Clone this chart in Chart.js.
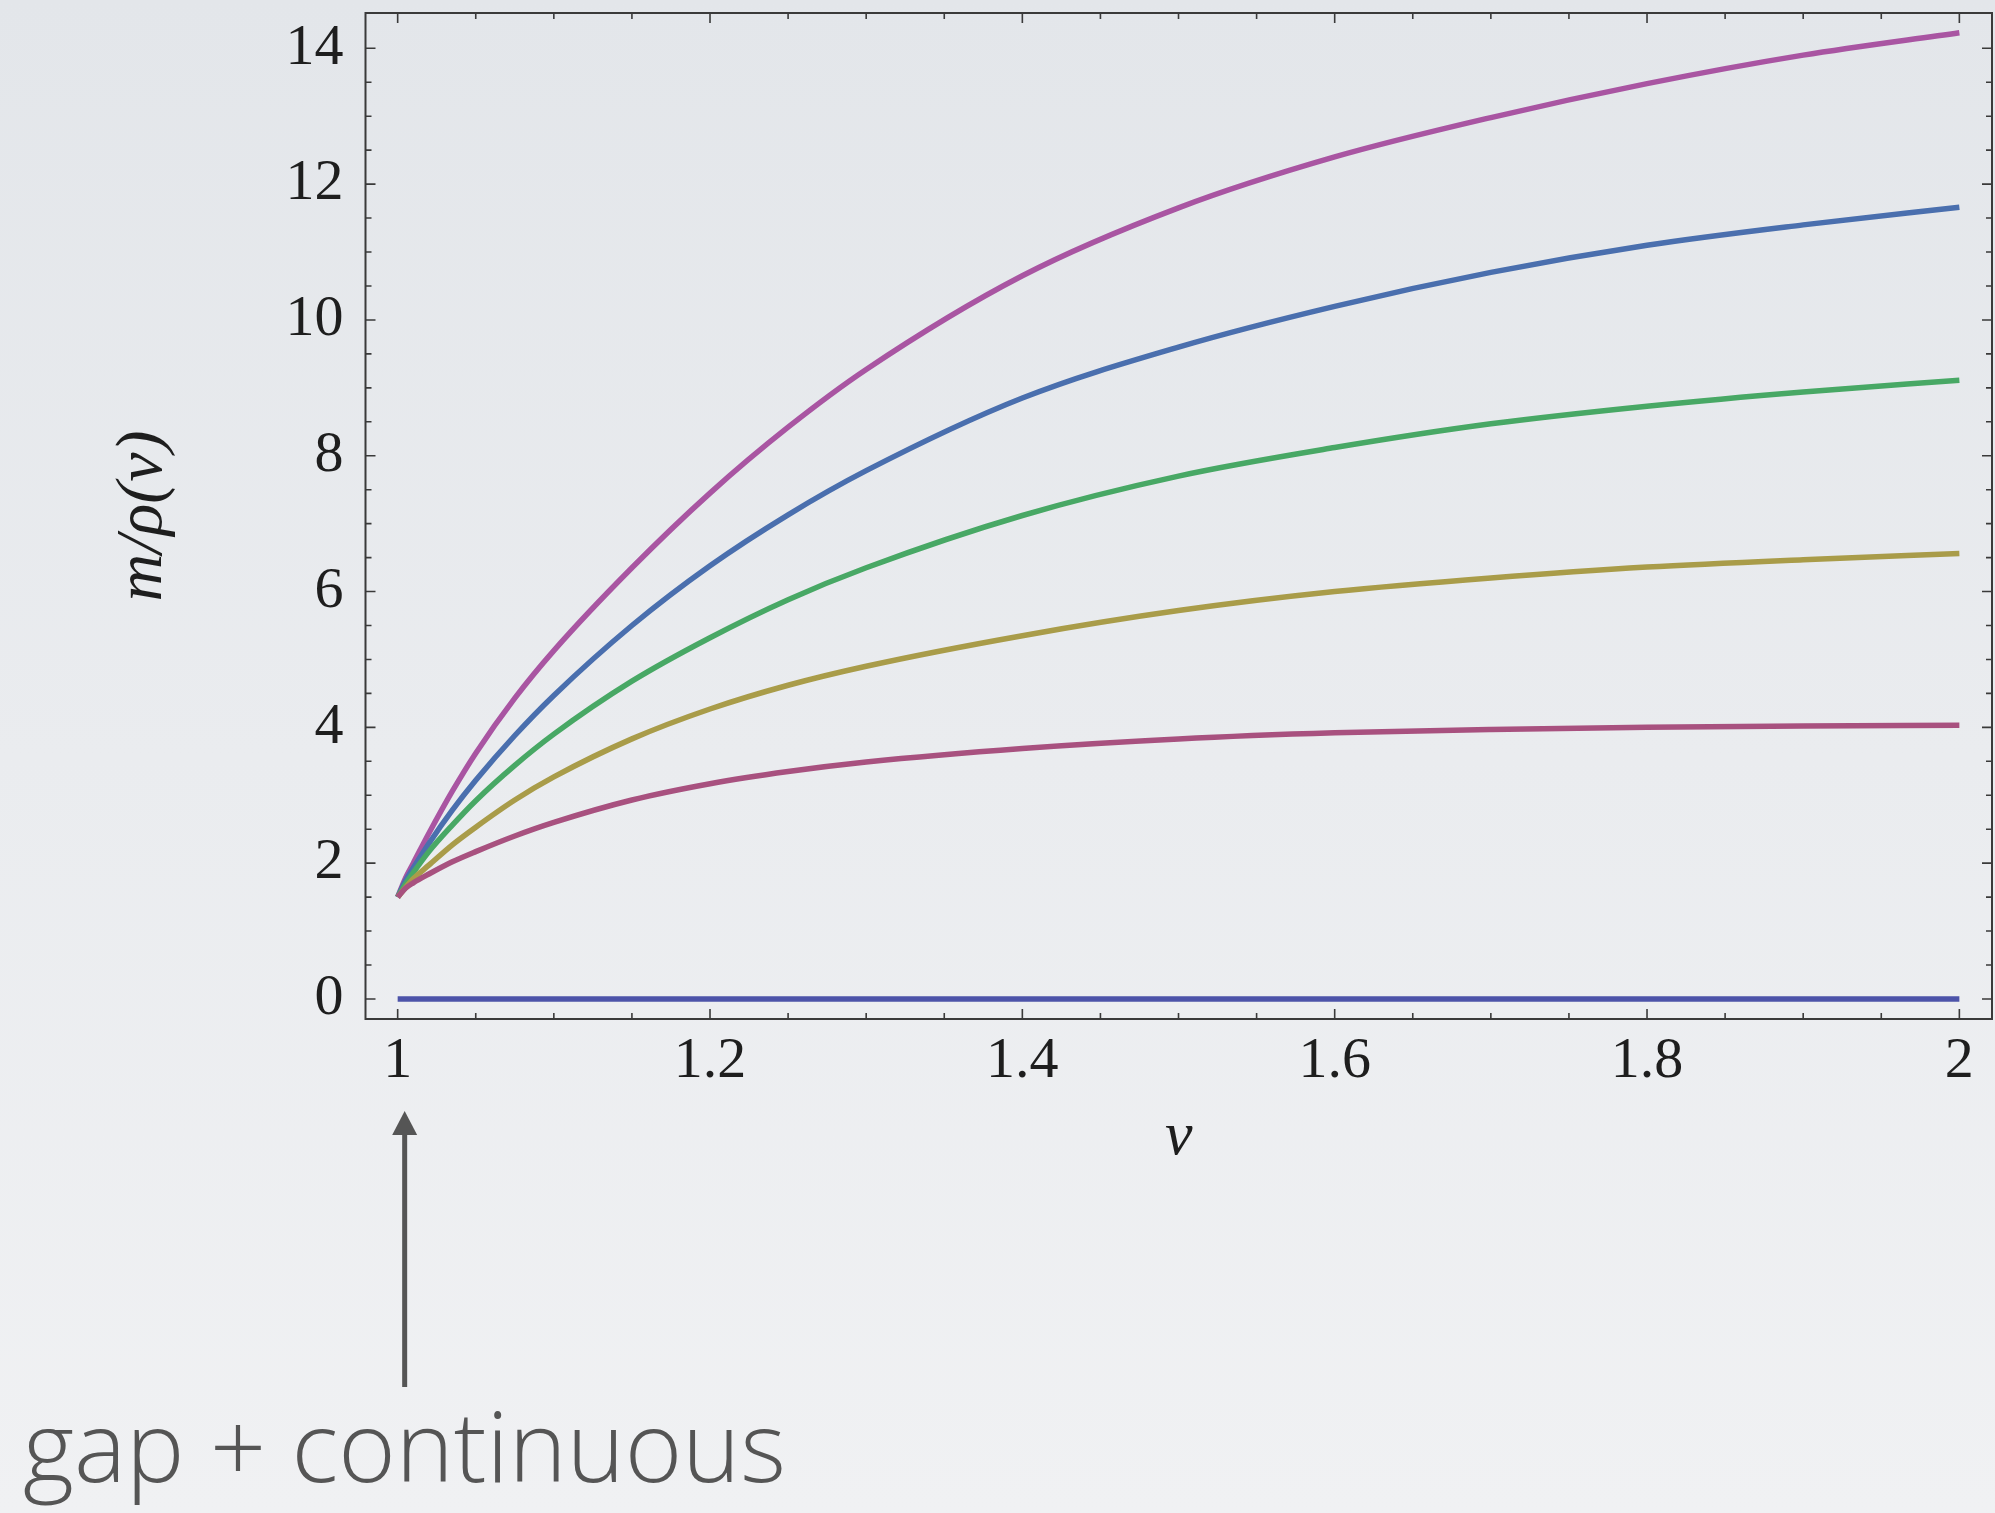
<!DOCTYPE html>
<html>
<head>
<meta charset="utf-8">
<script src="https://cdn.jsdelivr.net/npm/chart.js@4.4.1/dist/chart.umd.min.js"></script>
<style>
  html, body { margin: 0; padding: 0; }
  body {
    width: 1995px; height: 1513px; overflow: hidden;
    background: linear-gradient(to bottom, #e3e6ea 0%, #eaecef 50%, #f0f1f3 100%);
  }
  #wrap { position: absolute; left: 0; top: 0; width: 1995px; height: 1513px; }
</style>
</head>
<body>
<div id="wrap"><canvas id="chart" width="1995" height="1513"></canvas></div>
<script>
var nu = [1, 1.005, 1.01, 1.02, 1.035, 1.05, 1.075, 1.1, 1.15, 1.2, 1.25, 1.3, 1.4, 1.5, 1.6, 1.7, 1.8, 1.9, 2];

// m / rho(nu), one array per curve (top to bottom)
var magentaCurve = [1.5, 1.78, 2.0, 2.44, 3.06, 3.62, 4.43, 5.13, 6.35, 7.45, 8.42, 9.27, 10.65, 11.65, 12.4, 12.98, 13.48, 13.9, 14.23];
var blueCurve    = [1.5, 1.74, 1.93, 2.29, 2.78, 3.22, 3.88, 4.47, 5.5, 6.38, 7.13, 7.78, 8.85, 9.6, 10.2, 10.7, 11.1, 11.4, 11.66];
var greenCurve   = [1.5, 1.69, 1.86, 2.17, 2.56, 2.92, 3.44, 3.9, 4.68, 5.32, 5.88, 6.35, 7.12, 7.7, 8.12, 8.47, 8.73, 8.94, 9.11];
var oliveCurve   = [1.5, 1.64, 1.77, 1.97, 2.27, 2.53, 2.93, 3.27, 3.83, 4.27, 4.62, 4.9, 5.35, 5.72, 6.0, 6.2, 6.36, 6.47, 6.56];
var crimsonCurve = [1.5, 1.63, 1.71, 1.84, 2.02, 2.17, 2.4, 2.6, 2.93, 3.17, 3.35, 3.49, 3.69, 3.83, 3.92, 3.97, 4.0, 4.02, 4.03];

// the flat line at zero
var zeroNu = [1, 2];
var zeroLine = [0, 0];

var xTicks = [1, 1.2, 1.4, 1.6, 1.8, 2];
var yTicks = [0, 2, 4, 6, 8, 10, 12, 14];

var caption = 'gap + continuous';

function pts(xs, ys) {
    var out = [];
    for (var i = 0; i < xs.length; i++) {
        out.push({x: xs[i], y: ys[i]});
    }
    return out;
}

var serif = "'Liberation Serif', 'DejaVu Serif', serif";

// fixed axis box sizes, and no extra padding for the edge labels
function fixBox(w, h) {
    return function(s) {
        if (w) s.width = w;
        if (h) s.height = h;
        s.paddingTop = 0; s.paddingBottom = 0;
        s.paddingLeft = 0; s.paddingRight = 0;
    };
}

// frame with inward ticks on all four sides, plus the arrow and caption
var frameTicks = {
    id: 'frameTicks',
    afterDatasetsDraw: function(chart) {
        var ctx = chart.ctx;
        var a = chart.chartArea;
        var xs = chart.scales.x, ys = chart.scales.y;
        ctx.save();
        ctx.strokeStyle = '#3a3a3a';
        ctx.lineWidth = 2;
        ctx.strokeRect(a.left, a.top, a.right - a.left, a.bottom - a.top);

        ctx.lineWidth = 1.6;
        ctx.beginPath();
        // x ticks every 0.05, major every 0.2
        for (var i = 0; i <= 20; i++) {
            var px = xs.getPixelForValue(1 + i * 0.05);
            var len = (i % 4 == 0) ? 10 : 6;
            ctx.moveTo(px, a.bottom); ctx.lineTo(px, a.bottom - len);
            ctx.moveTo(px, a.top); ctx.lineTo(px, a.top + len);
        }
        // y ticks every 0.5, major every 2
        for (var j = 0; j <= 28; j++) {
            var py = ys.getPixelForValue(j * 0.5);
            var ylen = (j % 4 == 0) ? 10 : 6;
            ctx.moveTo(a.left, py); ctx.lineTo(a.left + ylen, py);
            ctx.moveTo(a.right, py); ctx.lineTo(a.right - ylen, py);
        }
        ctx.stroke();

        // arrow pointing at nu = 1
        var ax = xs.getPixelForValue(1) + 7;
        ctx.strokeStyle = '#555555';
        ctx.fillStyle = '#555555';
        ctx.lineWidth = 5;
        ctx.beginPath();
        ctx.moveTo(ax, 1387);
        ctx.lineTo(ax, 1132);
        ctx.stroke();
        ctx.beginPath();
        ctx.moveTo(ax, 1111);
        ctx.lineTo(ax - 12.5, 1135);
        ctx.lineTo(ax + 12.5, 1135);
        ctx.closePath();
        ctx.fill();

        // caption, sized to the reference width
        ctx.font = "300 100px 'Open Sans', Lato, sans-serif";
        var w = ctx.measureText(caption).width;
        var size = 100 * 763 / w;
        ctx.font = "300 " + size + "px 'Open Sans', Lato, sans-serif";
        ctx.textAlign = 'left';
        ctx.textBaseline = 'alphabetic';
        ctx.fillText(caption, 23, 1482);
        ctx.restore();
    }
};

var datasets = [
    {data: pts(zeroNu, zeroLine), borderColor: '#4c53a9'},
    {data: pts(nu, crimsonCurve), borderColor: '#a8517f'},
    {data: pts(nu, oliveCurve), borderColor: '#a99c49'},
    {data: pts(nu, greenCurve), borderColor: '#48a865'},
    {data: pts(nu, blueCurve), borderColor: '#4a6fae'},
    {data: pts(nu, magentaCurve), borderColor: '#a955a2'}
];

new Chart(document.getElementById('chart'), {
    type: 'line',
    data: {datasets: datasets},
    options: {
        responsive: false,
        animation: false,
        layout: {padding: {left: 0, top: 13, right: 3, bottom: 324}},
        plugins: {legend: {display: false}, tooltip: {enabled: false}},
        elements: {
            point: {radius: 0},
            line: {borderWidth: 5.5, cubicInterpolationMode: 'monotone', borderCapStyle: 'butt'}
        },
        scales: {
            x: {
                type: 'linear',
                min: 0.9794,
                max: 2.0209,
                grid: {display: false, drawTicks: false},
                border: {display: false},
                afterBuildTicks: function(s) {
                    s.ticks = xTicks.map(function(v) { return {value: v}; });
                },
                afterFit: fixBox(0, 170),
                ticks: {
                    font: {family: serif, size: 58},
                    color: '#1e1e1e',
                    padding: 8,
                    maxRotation: 0,
                    autoSkip: false,
                    callback: function(v) { return String(v); }
                },
                title: {
                    display: true,
                    text: 'ν',
                    font: {family: serif, style: 'italic', size: 62},
                    color: '#1e1e1e',
                    padding: {top: 0, bottom: 14}
                }
            },
            y: {
                type: 'linear',
                min: -0.295,
                max: 14.52,
                grid: {display: false, drawTicks: false},
                border: {display: false},
                afterBuildTicks: function(s) {
                    s.ticks = yTicks.map(function(v) { return {value: v}; });
                },
                afterFit: fixBox(365.5, 0),
                ticks: {
                    font: {family: serif, size: 58},
                    color: '#1e1e1e',
                    padding: 22,
                    callback: function(v) { return String(v); }
                },
                title: {
                    display: true,
                    text: 'm/ρ(ν)',
                    font: {family: serif, style: 'italic', size: 66},
                    color: '#1e1e1e',
                    padding: {top: 104, bottom: 0}
                }
            }
        }
    },
    plugins: [frameTicks]
});
</script>
</body>
</html>
